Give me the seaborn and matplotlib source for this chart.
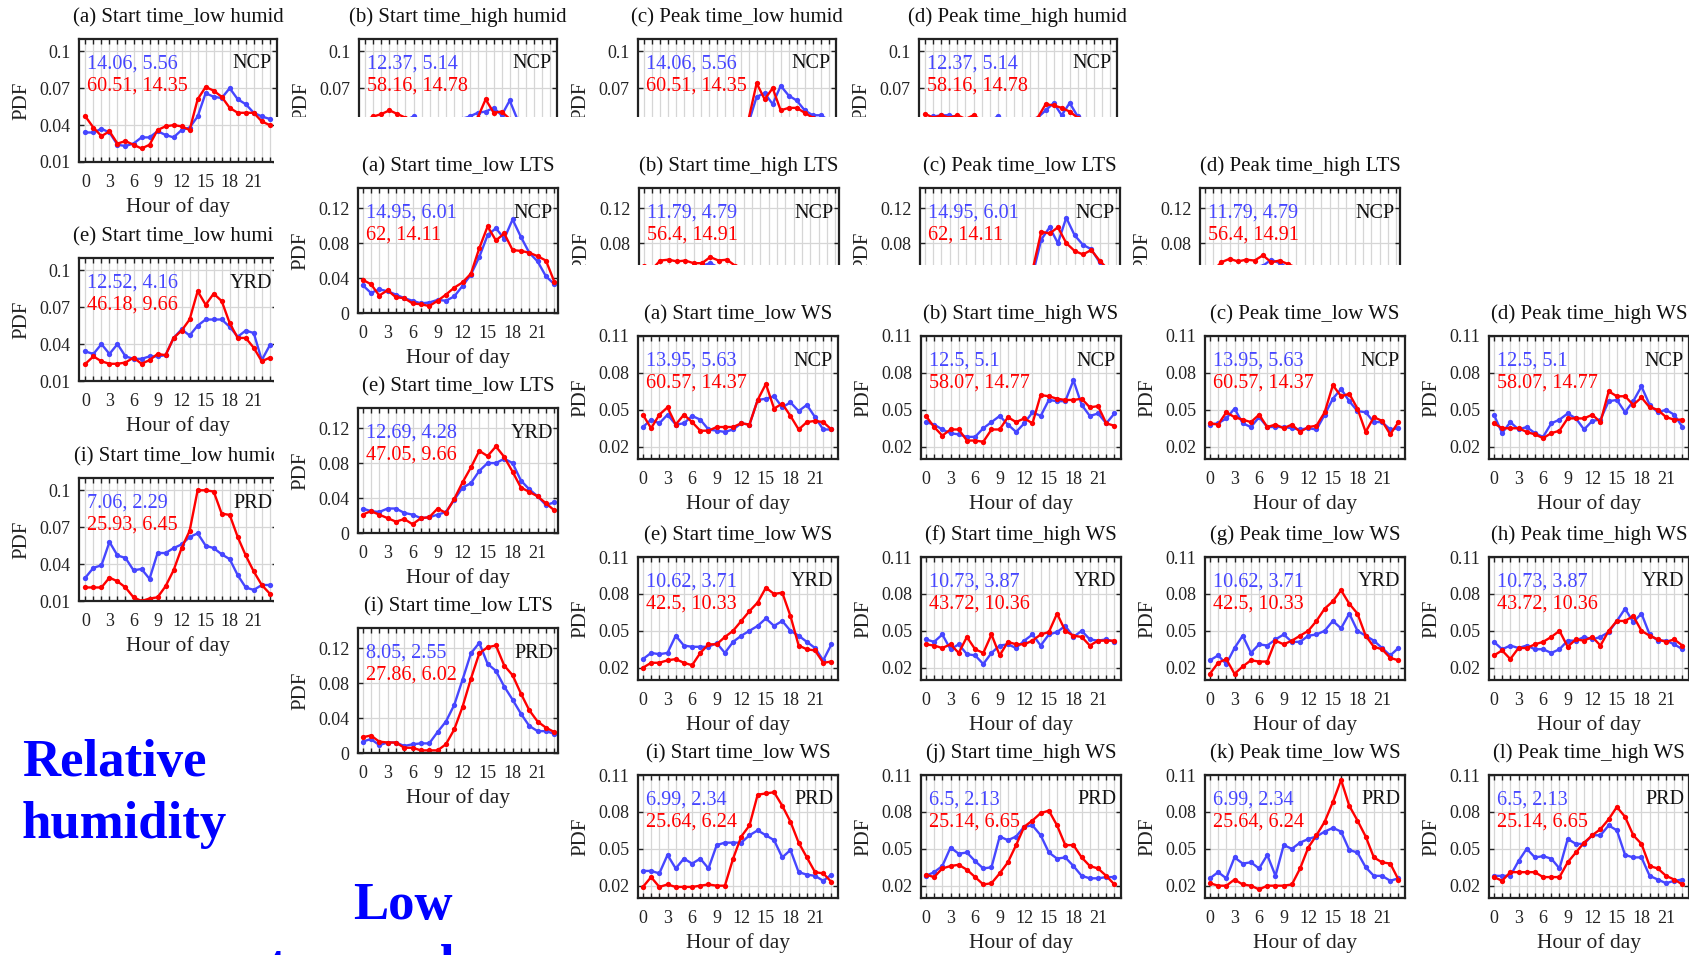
import numpy as np
import matplotlib.pyplot as plt
import seaborn as sns

sns.set_style("white")
plt.rcParams['font.family'] = ['Liberation Serif', 'DejaVu Serif']

HOURS = np.arange(24)
BLUE = "#4646FF"
RED = "#FF0000"

# ---------------- relative humidity ----------------
hum_a_blue = [0.034, 0.034, 0.037, 0.034, 0.024, 0.023, 0.025, 0.030, 0.030, 0.035, 0.032, 0.030,
              0.036, 0.038, 0.047, 0.066, 0.063, 0.062, 0.070, 0.061, 0.057, 0.050, 0.047, 0.045]
hum_a_red = [0.047, 0.038, 0.031, 0.035, 0.025, 0.027, 0.024, 0.021, 0.024, 0.036, 0.039, 0.040,
             0.039, 0.036, 0.061, 0.071, 0.068, 0.063, 0.054, 0.050, 0.050, 0.050, 0.043, 0.040]
hum_e_blue = [0.034, 0.032, 0.040, 0.032, 0.040, 0.030, 0.028, 0.028, 0.030, 0.030, 0.031, 0.045,
              0.052, 0.047, 0.055, 0.060, 0.060, 0.060, 0.054, 0.046, 0.051, 0.049, 0.027, 0.039]
hum_e_red = [0.024, 0.030, 0.026, 0.024, 0.024, 0.025, 0.029, 0.024, 0.027, 0.032, 0.031, 0.045,
             0.051, 0.060, 0.083, 0.072, 0.081, 0.075, 0.057, 0.045, 0.045, 0.037, 0.026, 0.029]
hum_i_blue = [0.029, 0.037, 0.039, 0.058, 0.047, 0.045, 0.035, 0.036, 0.028, 0.049, 0.049, 0.053,
              0.056, 0.062, 0.065, 0.055, 0.053, 0.048, 0.044, 0.031, 0.021, 0.019, 0.023, 0.023]
hum_i_red = [0.021, 0.021, 0.021, 0.029, 0.026, 0.021, 0.013, 0.010, 0.012, 0.013, 0.022, 0.035,
             0.053, 0.067, 0.100, 0.100, 0.099, 0.081, 0.080, 0.062, 0.047, 0.034, 0.023, 0.016]
hum_b_blue = [0.040, 0.039, 0.041, 0.043, 0.042, 0.044, 0.047, 0.042, 0.038, 0.039, 0.041, 0.043,
              0.045, 0.047, 0.050, 0.051, 0.054, 0.048, 0.060, 0.044, 0.043, 0.041, 0.040, 0.039]
hum_b_red = [0.044, 0.047, 0.049, 0.052, 0.049, 0.046, 0.043, 0.040, 0.037, 0.036, 0.038, 0.040,
             0.042, 0.044, 0.046, 0.061, 0.050, 0.051, 0.045, 0.042, 0.041, 0.040, 0.039, 0.038]
hum_c_blue = [0.035, 0.033, 0.034, 0.032, 0.028, 0.027, 0.028, 0.030, 0.031, 0.033, 0.034, 0.035,
              0.037, 0.042, 0.063, 0.066, 0.057, 0.072, 0.064, 0.060, 0.052, 0.048, 0.048, 0.044]
hum_c_red = [0.044, 0.038, 0.033, 0.034, 0.027, 0.027, 0.025, 0.023, 0.025, 0.034, 0.038, 0.039,
             0.038, 0.045, 0.074, 0.061, 0.070, 0.052, 0.054, 0.054, 0.050, 0.046, 0.043, 0.040]
hum_d_blue = [0.044, 0.047, 0.048, 0.048, 0.046, 0.044, 0.043, 0.042, 0.043, 0.047, 0.044, 0.043,
              0.044, 0.045, 0.046, 0.052, 0.058, 0.048, 0.058, 0.047, 0.044, 0.043, 0.042, 0.041]
hum_d_red = [0.049, 0.046, 0.048, 0.046, 0.048, 0.045, 0.048, 0.044, 0.042, 0.041, 0.041, 0.042,
             0.043, 0.044, 0.046, 0.057, 0.056, 0.054, 0.051, 0.046, 0.043, 0.042, 0.041, 0.040]

# ---------------- LTS ----------------
lts_a_blue = [0.032, 0.023, 0.027, 0.025, 0.021, 0.017, 0.014, 0.011, 0.012, 0.015, 0.014, 0.019,
              0.031, 0.044, 0.064, 0.089, 0.097, 0.085, 0.107, 0.087, 0.069, 0.059, 0.042, 0.033]
lts_a_red = [0.038, 0.033, 0.020, 0.026, 0.018, 0.017, 0.011, 0.010, 0.008, 0.014, 0.021, 0.029,
             0.035, 0.045, 0.074, 0.099, 0.083, 0.091, 0.072, 0.071, 0.069, 0.065, 0.060, 0.036]
lts_e_blue = [0.028, 0.025, 0.024, 0.028, 0.028, 0.023, 0.021, 0.017, 0.018, 0.021, 0.024, 0.038,
              0.052, 0.057, 0.071, 0.080, 0.080, 0.085, 0.080, 0.060, 0.050, 0.042, 0.032, 0.035]
lts_e_red = [0.021, 0.025, 0.021, 0.017, 0.013, 0.016, 0.010, 0.017, 0.018, 0.028, 0.023, 0.039,
             0.058, 0.075, 0.094, 0.088, 0.099, 0.087, 0.070, 0.052, 0.047, 0.042, 0.034, 0.026]
lts_i_blue = [0.013, 0.016, 0.009, 0.012, 0.012, 0.008, 0.010, 0.011, 0.011, 0.024, 0.036, 0.055,
              0.084, 0.114, 0.126, 0.102, 0.094, 0.076, 0.061, 0.045, 0.031, 0.025, 0.025, 0.022]
lts_i_red = [0.018, 0.020, 0.013, 0.012, 0.012, 0.006, 0.006, 0.003, 0.003, 0.003, 0.010, 0.027,
             0.053, 0.085, 0.114, 0.121, 0.123, 0.100, 0.089, 0.068, 0.049, 0.036, 0.029, 0.024]
lts_b_blue = [0.040, 0.042, 0.044, 0.046, 0.048, 0.050, 0.052, 0.054, 0.057, 0.052, 0.050, 0.048,
              0.046, 0.046, 0.045, 0.047, 0.048, 0.046, 0.045, 0.043, 0.041, 0.038, 0.036, 0.033]
lts_b_red = [0.054, 0.050, 0.060, 0.061, 0.059, 0.060, 0.057, 0.057, 0.064, 0.060, 0.061, 0.054,
             0.050, 0.048, 0.047, 0.046, 0.045, 0.044, 0.043, 0.042, 0.040, 0.038, 0.036, 0.034]
lts_c_blue = [0.030, 0.024, 0.026, 0.024, 0.021, 0.017, 0.013, 0.011, 0.011, 0.015, 0.015, 0.020,
              0.030, 0.045, 0.084, 0.098, 0.080, 0.109, 0.089, 0.078, 0.073, 0.058, 0.045, 0.034]
lts_c_red = [0.037, 0.032, 0.022, 0.026, 0.018, 0.017, 0.011, 0.010, 0.008, 0.014, 0.021, 0.029,
             0.035, 0.051, 0.093, 0.091, 0.098, 0.080, 0.071, 0.067, 0.072, 0.060, 0.050, 0.036]
lts_d_blue = [0.040, 0.042, 0.045, 0.047, 0.049, 0.051, 0.053, 0.054, 0.061, 0.057, 0.052, 0.049,
              0.047, 0.046, 0.045, 0.047, 0.048, 0.046, 0.045, 0.043, 0.041, 0.038, 0.036, 0.033]
lts_d_red = [0.045, 0.048, 0.058, 0.062, 0.059, 0.061, 0.060, 0.066, 0.058, 0.060, 0.056, 0.052,
             0.050, 0.048, 0.047, 0.046, 0.045, 0.044, 0.043, 0.042, 0.040, 0.038, 0.036, 0.034]

# ---------------- wind speed ----------------
ws_a_blue = [0.036, 0.042, 0.039, 0.046, 0.038, 0.039, 0.045, 0.042, 0.034, 0.033, 0.032, 0.034,
             0.039, 0.038, 0.058, 0.059, 0.061, 0.052, 0.056, 0.049, 0.054, 0.044, 0.034, 0.034]
ws_a_red = [0.046, 0.035, 0.046, 0.052, 0.038, 0.046, 0.040, 0.033, 0.033, 0.036, 0.036, 0.036,
            0.039, 0.038, 0.058, 0.071, 0.051, 0.055, 0.045, 0.034, 0.040, 0.041, 0.040, 0.034]
ws_b_blue = [0.040, 0.038, 0.034, 0.031, 0.030, 0.028, 0.028, 0.035, 0.040, 0.045, 0.038, 0.032,
             0.039, 0.048, 0.045, 0.058, 0.057, 0.057, 0.074, 0.054, 0.045, 0.047, 0.039, 0.047]
ws_b_red = [0.045, 0.036, 0.029, 0.034, 0.034, 0.025, 0.025, 0.024, 0.034, 0.034, 0.044, 0.040,
            0.043, 0.039, 0.062, 0.061, 0.059, 0.058, 0.058, 0.059, 0.052, 0.053, 0.039, 0.037]
ws_c_blue = [0.038, 0.039, 0.043, 0.051, 0.039, 0.036, 0.044, 0.036, 0.036, 0.036, 0.035, 0.034,
             0.035, 0.034, 0.046, 0.059, 0.067, 0.057, 0.049, 0.048, 0.040, 0.040, 0.034, 0.035]
ws_c_red = [0.039, 0.038, 0.048, 0.044, 0.042, 0.040, 0.046, 0.036, 0.038, 0.035, 0.038, 0.032,
            0.036, 0.037, 0.048, 0.070, 0.061, 0.063, 0.051, 0.032, 0.044, 0.041, 0.030, 0.040]
ws_d_blue = [0.046, 0.031, 0.040, 0.034, 0.036, 0.031, 0.028, 0.039, 0.042, 0.047, 0.043, 0.034,
             0.041, 0.042, 0.057, 0.058, 0.048, 0.057, 0.069, 0.054, 0.048, 0.050, 0.046, 0.036]
ws_d_red = [0.039, 0.035, 0.035, 0.035, 0.032, 0.030, 0.027, 0.031, 0.033, 0.043, 0.043, 0.043,
            0.046, 0.040, 0.065, 0.061, 0.061, 0.054, 0.060, 0.052, 0.050, 0.044, 0.042, 0.042]
ws_e_blue = [0.027, 0.032, 0.031, 0.032, 0.046, 0.038, 0.037, 0.037, 0.037, 0.040, 0.032, 0.041,
             0.046, 0.050, 0.054, 0.060, 0.054, 0.058, 0.050, 0.046, 0.041, 0.036, 0.026, 0.039]
ws_e_red = [0.020, 0.024, 0.024, 0.026, 0.027, 0.024, 0.022, 0.032, 0.039, 0.039, 0.045, 0.050,
            0.058, 0.066, 0.073, 0.085, 0.080, 0.081, 0.062, 0.038, 0.035, 0.034, 0.024, 0.025]
ws_f_blue = [0.043, 0.041, 0.047, 0.035, 0.039, 0.031, 0.030, 0.023, 0.032, 0.038, 0.039, 0.036,
             0.042, 0.047, 0.038, 0.047, 0.049, 0.054, 0.045, 0.050, 0.043, 0.042, 0.043, 0.041]
ws_f_red = [0.039, 0.038, 0.036, 0.039, 0.032, 0.045, 0.035, 0.032, 0.047, 0.030, 0.041, 0.039,
            0.039, 0.042, 0.047, 0.049, 0.064, 0.050, 0.046, 0.045, 0.038, 0.042, 0.042, 0.042]
ws_g_blue = [0.026, 0.030, 0.023, 0.036, 0.046, 0.032, 0.039, 0.038, 0.043, 0.047, 0.041, 0.041,
             0.046, 0.047, 0.050, 0.058, 0.052, 0.064, 0.050, 0.046, 0.042, 0.036, 0.030, 0.036]
ws_g_red = [0.015, 0.024, 0.027, 0.015, 0.021, 0.026, 0.025, 0.025, 0.042, 0.039, 0.042, 0.046,
            0.050, 0.058, 0.068, 0.074, 0.083, 0.072, 0.064, 0.046, 0.037, 0.035, 0.028, 0.026]
ws_h_blue = [0.041, 0.035, 0.038, 0.036, 0.038, 0.035, 0.035, 0.032, 0.035, 0.042, 0.042, 0.045,
             0.043, 0.045, 0.049, 0.058, 0.068, 0.057, 0.064, 0.047, 0.042, 0.042, 0.039, 0.035]
ws_h_red = [0.030, 0.034, 0.027, 0.036, 0.036, 0.039, 0.041, 0.045, 0.050, 0.037, 0.043, 0.042,
            0.045, 0.038, 0.050, 0.058, 0.058, 0.062, 0.050, 0.046, 0.043, 0.041, 0.043, 0.038]
ws_i_blue = [0.032, 0.032, 0.030, 0.045, 0.034, 0.042, 0.038, 0.042, 0.034, 0.053, 0.055, 0.055,
             0.055, 0.061, 0.065, 0.061, 0.057, 0.043, 0.049, 0.031, 0.029, 0.028, 0.024, 0.029]
ws_i_red = [0.019, 0.027, 0.019, 0.021, 0.019, 0.019, 0.019, 0.020, 0.021, 0.020, 0.020, 0.042,
            0.060, 0.069, 0.094, 0.095, 0.096, 0.085, 0.072, 0.055, 0.043, 0.031, 0.030, 0.023]
ws_j_blue = [0.028, 0.031, 0.036, 0.051, 0.046, 0.047, 0.040, 0.034, 0.035, 0.060, 0.057, 0.060,
             0.068, 0.069, 0.061, 0.047, 0.042, 0.043, 0.036, 0.028, 0.026, 0.026, 0.027, 0.027]
ws_j_red = [0.029, 0.027, 0.034, 0.036, 0.037, 0.033, 0.027, 0.021, 0.022, 0.030, 0.039, 0.053,
            0.068, 0.073, 0.079, 0.081, 0.069, 0.053, 0.053, 0.043, 0.036, 0.034, 0.028, 0.021]
ws_k_blue = [0.026, 0.031, 0.026, 0.043, 0.038, 0.039, 0.034, 0.045, 0.028, 0.053, 0.050, 0.055,
             0.058, 0.060, 0.064, 0.067, 0.064, 0.049, 0.047, 0.035, 0.028, 0.028, 0.024, 0.026]
ws_k_red = [0.022, 0.020, 0.020, 0.025, 0.021, 0.020, 0.017, 0.020, 0.020, 0.020, 0.021, 0.034,
            0.051, 0.061, 0.072, 0.088, 0.106, 0.085, 0.073, 0.060, 0.043, 0.039, 0.038, 0.025]
ws_l_blue = [0.028, 0.028, 0.028, 0.040, 0.050, 0.043, 0.044, 0.042, 0.034, 0.058, 0.054, 0.054,
             0.061, 0.061, 0.069, 0.065, 0.045, 0.043, 0.043, 0.028, 0.025, 0.022, 0.024, 0.025]
ws_l_red = [0.027, 0.024, 0.031, 0.031, 0.031, 0.031, 0.027, 0.027, 0.027, 0.039, 0.047, 0.055,
            0.061, 0.066, 0.074, 0.084, 0.076, 0.061, 0.054, 0.036, 0.034, 0.028, 0.025, 0.021]

# mean/std labels (blue line, red line)
hum_stats = {"NCP": ("14.06, 5.56", "60.51, 14.35"), "YRD": ("12.52, 4.16", "46.18, 9.66"),
             "PRD": ("7.06, 2.29", "25.93, 6.45"), "NCPh": ("12.37, 5.14", "58.16, 14.78")}
lts_stats = {"NCP": ("14.95, 6.01", "62, 14.11"), "YRD": ("12.69, 4.28", "47.05, 9.66"),
             "PRD": ("8.05, 2.55", "27.86, 6.02"), "NCPh": ("11.79, 4.79", "56.4, 14.91")}
ws_stats = {"NCP": ("13.95, 5.63", "60.57, 14.37"), "NCPh": ("12.5, 5.1", "58.07, 14.77"),
            "YRD": ("10.62, 3.71", "42.5, 10.33"), "YRDh": ("10.73, 3.87", "43.72, 10.36"),
            "PRD": ("6.99, 2.34", "25.64, 6.24"), "PRDh": ("6.5, 2.13", "25.14, 6.65")}

W, H = 1689, 955
fig = plt.figure(figsize=(W / 100, H / 100), dpi=100)


def px_rect(left, top, width, height):
    return [left / W, 1 - (top + height) / H, width / W, height / H]


def panel(rect, title, blue, red, stats, region, yticks, ylim, xlim, z):
    ax = fig.add_axes(px_rect(*rect), zorder=z)
    for vals, col in ((blue, BLUE), (red, RED)):
        sns.lineplot(x=HOURS, y=vals, ax=ax, color=col, linewidth=1.7, marker='o',
                     markersize=3.8, markeredgewidth=0)
    ax.set_xlim(xlim)
    ax.set_ylim(ylim)
    ax.set_xticks(HOURS)
    ax.set_xticklabels([str(h) if h % 3 == 0 else '' for h in HOURS])
    ax.set_yticks(yticks)
    ax.set_yticklabels([f"{t:g}" for t in yticks])
    ax.grid(True, color='#d6d6d6', linewidth=0.9)
    ax.set_axisbelow(True)
    ax.tick_params(direction='in', length=3.5, width=1, top=True, right=True, bottom=True,
                   left=True, labelsize=13, colors='#222222')
    ax.tick_params(axis='x', pad=8.5)
    ax.tick_params(axis='y', pad=6)
    for s in ax.spines.values():
        s.set_linewidth(1.6)
        s.set_color('#222222')
    ax.set_title(title, fontsize=15, pad=12, color='#111111')
    ax.set_xlabel("Hour of day", fontsize=15.5, labelpad=4.5, color='#222222')
    ax.set_ylabel("PDF", fontsize=15, labelpad=6, color='#222222')
    w, h = rect[2], rect[3]
    ax.text(8 / w, 1 - 25 / h, stats[0], transform=ax.transAxes, color=BLUE, fontsize=14.5, va='center')
    ax.text(8 / w, 1 - 47 / h, stats[1], transform=ax.transAxes, color=RED, fontsize=14.5, va='center')
    ax.text(1 - 5 / w, 1 - 25 / h, region, transform=ax.transAxes, color='#111111', fontsize=14.5,
            va='center', ha='right')
    return ax


def cover(left, top, z):
    fig.add_artist(plt.Rectangle((left / W, 0), 1 - left / W, 1 - top / H, transform=fig.transFigure,
                                 facecolor='white', edgecolor='none', zorder=z))


# layer 1: relative humidity
HUM_COLS = [79, 359, 638, 919]
HUM_ROWS = [39, 258, 478]
hum_y = dict(yticks=[0.01, 0.04, 0.07, 0.1], ylim=(0.01, 0.11), xlim=(-0.8, 23.9), z=1)
panel((HUM_COLS[0], HUM_ROWS[0], 198, 123), "(a) Start time_low humid", hum_a_blue, hum_a_red,
      hum_stats["NCP"], "NCP", **hum_y)
panel((HUM_COLS[0], HUM_ROWS[1], 198, 123), "(e) Start time_low humid", hum_e_blue, hum_e_red,
      hum_stats["YRD"], "YRD", **hum_y)
panel((HUM_COLS[0], HUM_ROWS[2], 198, 123), "(i) Start time_low humid", hum_i_blue, hum_i_red,
      hum_stats["PRD"], "PRD", **hum_y)
panel((HUM_COLS[1], HUM_ROWS[0], 198, 123), "(b) Start time_high humid", hum_b_blue, hum_b_red,
      hum_stats["NCPh"], "NCP", **hum_y)
panel((HUM_COLS[2], HUM_ROWS[0], 198, 123), "(c) Peak time_low humid", hum_c_blue, hum_c_red,
      hum_stats["NCP"], "NCP", **hum_y)
panel((HUM_COLS[3], HUM_ROWS[0], 198, 123), "(d) Peak time_high humid", hum_d_blue, hum_d_red,
      hum_stats["NCPh"], "NCP", **hum_y)
fig.text(22 / W, 1 - 794 / H, "Relative\nhumidity", color='#0000FF', fontsize=38, fontweight='bold',
         va='center', ha='left', linespacing=1.36, zorder=1.5)

# layer 2: low troposphere stability
cover(274, 117, 2)
LTS_COLS = [358, 639, 920, 1200]
LTS_ROWS = [188, 408, 628]
lts_y = dict(yticks=[0, 0.04, 0.08, 0.12], ylim=(0, 0.143), xlim=(-0.55, 23.45), z=3)
panel((LTS_COLS[0], LTS_ROWS[0], 200, 125), "(a) Start time_low LTS", lts_a_blue, lts_a_red,
      lts_stats["NCP"], "NCP", **lts_y)
panel((LTS_COLS[0], LTS_ROWS[1], 200, 125), "(e) Start time_low LTS", lts_e_blue, lts_e_red,
      lts_stats["YRD"], "YRD", **lts_y)
panel((LTS_COLS[0], LTS_ROWS[2], 200, 125), "(i) Start time_low LTS", lts_i_blue, lts_i_red,
      lts_stats["PRD"], "PRD", **lts_y)
panel((LTS_COLS[1], LTS_ROWS[0], 200, 125), "(b) Start time_high LTS", lts_b_blue, lts_b_red,
      lts_stats["NCPh"], "NCP", **lts_y)
panel((LTS_COLS[2], LTS_ROWS[0], 200, 125), "(c) Peak time_low LTS", lts_c_blue, lts_c_red,
      lts_stats["NCP"], "NCP", **lts_y)
panel((LTS_COLS[3], LTS_ROWS[0], 200, 125), "(d) Peak time_high LTS", lts_d_blue, lts_d_red,
      lts_stats["NCPh"], "NCP", **lts_y)
fig.text(403 / W, 1 - 937 / H, "Low\ntroposphere", color='#0000FF', fontsize=38, fontweight='bold',
         va='center', ha='center', multialignment='center', linespacing=1.36, zorder=3.5)

# layer 3: wind speed
cover(566, 265, 4)
WS_COLS = [638, 921, 1205, 1489]
WS_ROWS = [336, 557, 775]
ws_y = dict(yticks=[0.02, 0.05, 0.08, 0.11], ylim=(0.01, 0.11), xlim=(-0.6, 23.8), z=5)
ws_panels = [
    ("(a) Start time_low WS", ws_a_blue, ws_a_red, "NCP", "NCP"),
    ("(b) Start time_high WS", ws_b_blue, ws_b_red, "NCPh", "NCP"),
    ("(c) Peak time_low WS", ws_c_blue, ws_c_red, "NCP", "NCP"),
    ("(d) Peak time_high WS", ws_d_blue, ws_d_red, "NCPh", "NCP"),
    ("(e) Start time_low WS", ws_e_blue, ws_e_red, "YRD", "YRD"),
    ("(f) Start time_high WS", ws_f_blue, ws_f_red, "YRDh", "YRD"),
    ("(g) Peak time_low WS", ws_g_blue, ws_g_red, "YRD", "YRD"),
    ("(h) Peak time_high WS", ws_h_blue, ws_h_red, "YRDh", "YRD"),
    ("(i) Start time_low WS", ws_i_blue, ws_i_red, "PRD", "PRD"),
    ("(j) Start time_high WS", ws_j_blue, ws_j_red, "PRDh", "PRD"),
    ("(k) Peak time_low WS", ws_k_blue, ws_k_red, "PRD", "PRD"),
    ("(l) Peak time_high WS", ws_l_blue, ws_l_red, "PRDh", "PRD"),
]
for n, (title, b, r, key, region) in enumerate(ws_panels):
    rect = (WS_COLS[n % 4], WS_ROWS[n // 4], 200, 123)
    panel(rect, title, b, r, ws_stats[key], region, **ws_y)

fig.savefig("out.png", dpi=100, facecolor='white')
